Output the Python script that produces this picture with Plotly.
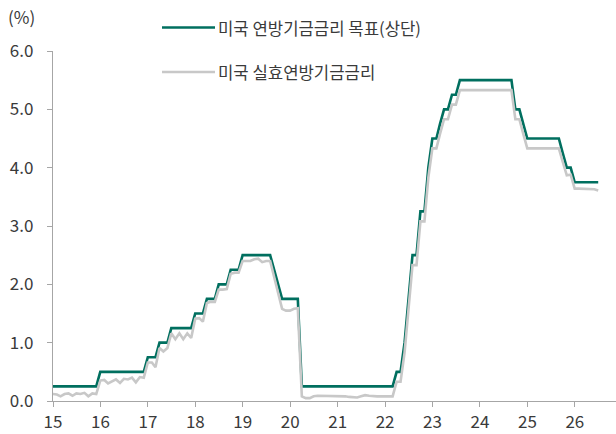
import pandas as pd
import plotly.graph_objects as go

# month-end observations, Dec 2014 .. Jun 2026
dates = pd.date_range("2014-12-31", "2026-06-30", freq="ME")

target_upper = (
    [0.25]
    + [0.25] * 11 + [0.50]                                                   # 2015
    + [0.50] * 11 + [0.75]                                                   # 2016
    + [0.75, 0.75, 1.00, 1.00, 1.00] + [1.25] * 6 + [1.50]                   # 2017
    + [1.50, 1.50, 1.75, 1.75, 1.75, 2.00, 2.00, 2.00, 2.25, 2.25, 2.25, 2.50]  # 2018
    + [2.50] * 7 + [2.25, 2.00, 1.75, 1.75, 1.75]                            # 2019
    + [1.75, 1.75] + [0.25] * 10                                             # 2020
    + [0.25] * 12                                                            # 2021
    + [0.25, 0.25, 0.50, 0.50, 1.00, 1.75, 2.50, 2.50, 3.25, 3.25, 4.00, 4.50]  # 2022
    + [4.50, 4.75, 5.00, 5.00, 5.25, 5.25] + [5.50] * 6                      # 2023
    + [5.50] * 8 + [5.00, 5.00, 4.75, 4.50]                                  # 2024
    + [4.50] * 8 + [4.25, 4.00, 4.00, 3.75]                                  # 2025
    + [3.75] * 6                                                             # 2026
)

effective = (
    [0.12]
    + [0.11, 0.08, 0.12, 0.13, 0.09, 0.13, 0.12, 0.14, 0.08, 0.13, 0.12, 0.35]  # 2015
    + [0.36, 0.30, 0.33, 0.37, 0.31, 0.38, 0.37, 0.40, 0.32, 0.41, 0.40, 0.66]  # 2016
    + [0.66, 0.58, 0.91, 0.85, 0.91, 1.16, 1.06, 1.16, 1.06, 1.16, 1.08, 1.41]  # 2017
    + [1.42, 1.36, 1.68, 1.70, 1.70, 1.91, 1.91, 1.92, 2.18, 2.20, 2.20, 2.40]  # 2018
    + [2.40, 2.40, 2.43, 2.44, 2.38, 2.40, 2.40, 2.12, 1.90, 1.58, 1.55, 1.55]  # 2019
    + [1.58, 1.59, 0.08, 0.05, 0.05, 0.08, 0.09, 0.09, 0.09, 0.09, 0.09, 0.09]  # 2020
    + [0.09, 0.08, 0.07, 0.07, 0.06, 0.08, 0.10, 0.09, 0.08, 0.08, 0.08, 0.08]  # 2021
    + [0.08, 0.08, 0.33, 0.33, 0.83, 1.58, 2.33, 2.33, 3.08, 3.08, 3.83, 4.33]  # 2022
    + [4.33, 4.58, 4.83, 4.83, 5.08, 5.08] + [5.33] * 6                         # 2023
    + [5.33] * 8 + [4.83, 4.83, 4.58, 4.33]                                     # 2024
    + [4.33] * 8 + [4.10, 3.87, 3.88, 3.64]                                     # 2025
    + [3.64, 3.64, 3.63, 3.63, 3.63, 3.61]                                      # 2026
)

names = ["미국 연방기금금리 목표(상단)", "미국 실효연방기금금리"]
colors = ["#006f5f", "#c8c8c8"]

FONT = "Noto Sans CJK KR"
TXT = "#3a3a3a"
AX = "#a6a6a6"

# plot area in pixels: left 53, right 616, top 51, bottom 401
def px(x):
    return (x - 53) / 563

def py(y):
    return (401 - y) / 350

fig = go.Figure()
fig.add_trace(go.Scatter(x=dates, y=target_upper, mode="lines", name=names[0],
                         line=dict(color=colors[0], width=2.6)))
fig.add_trace(go.Scatter(x=dates, y=effective, mode="lines", name=names[1],
                         line=dict(color=colors[1], width=2.6)))

# legend drawn by hand (longer line samples than plotly's)
for i, ly in enumerate([27.5, 72]):
    fig.add_shape(type="line", xref="paper", yref="paper",
                  x0=px(162), x1=px(215), y0=py(ly), y1=py(ly),
                  line=dict(color=colors[i], width=2.6))
    fig.add_annotation(xref="paper", yref="paper", x=px(216), y=py(ly + 0.5),
                       text=names[i], showarrow=False, xanchor="left",
                       yanchor="middle", font=dict(family=FONT, size=16.7, color=TXT))

fig.add_annotation(xref="paper", yref="paper", x=px(6), y=py(17),
                   text="(%)", showarrow=False, xanchor="left", yanchor="middle",
                   font=dict(family=FONT, size=17, color=TXT))

fig.update_layout(
    width=616, height=434,
    margin=dict(l=53, r=0, t=51, b=33),
    paper_bgcolor="white", plot_bgcolor="white",
    showlegend=False,
    font=dict(family=FONT, size=17, color=TXT),
)
fig.update_xaxes(
    type="date", range=["2015-01-01", "2026-11-14"],
    tick0="2015-01-01", dtick="M12", tickformat="%y",
    showgrid=False, zeroline=False,
    showline=True, linecolor=AX, linewidth=1.3,
    ticks="outside", ticklen=5, tickcolor=AX, tickwidth=1.3,
)
fig.update_yaxes(
    range=[0, 6], dtick=1, tickformat=".1f",
    showgrid=False, zeroline=False,
    showline=True, linecolor=AX, linewidth=1.3,
    ticks="outside", ticklen=5, tickcolor=AX, tickwidth=1.3,
    ticklabelstandoff=10,
)

# drop the browser's default page margin so the figure sits at (0, 0)
fig.write_html("out.html", config={"displayModeBar": False},
               post_script="document.body.style.margin='0px';")
